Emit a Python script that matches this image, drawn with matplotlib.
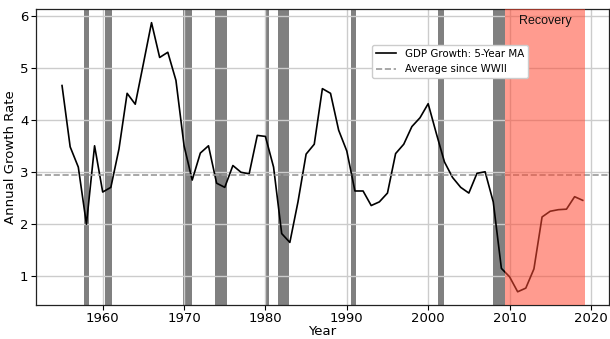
import matplotlib
matplotlib.use("Agg")
import matplotlib.pyplot as plt

# Five-year moving average of annual real GDP growth (%)
years = list(range(1955, 2020))
gdp_ma = [
    4.66, 3.48, 3.09, 1.99, 3.50, 2.61, 2.70, 3.44, 4.51, 4.30,
    5.08, 5.87, 5.20, 5.30, 4.76, 3.50, 2.84, 3.36, 3.50, 2.78,
    2.70, 3.12, 2.99, 2.96, 3.70, 3.68, 3.09, 1.81, 1.64, 2.42,
    3.34, 3.53, 4.60, 4.51, 3.80, 3.40, 2.63, 2.63, 2.35, 2.42,
    2.59, 3.35, 3.53, 3.87, 4.04, 4.31, 3.74, 3.19, 2.89, 2.70,
    2.59, 2.97, 3.00, 2.42, 1.14, 0.98, 0.69, 0.76, 1.13, 2.13,
    2.24, 2.27, 2.28, 2.52, 2.45,
]
postwar_average = 2.93

# NBER recession periods (fractional years)
rec_start = [1957.67, 1960.33, 1969.92, 1973.83, 1980.00, 1981.50, 1990.50, 2001.17, 2007.92]
rec_end = [1958.33, 1961.17, 1970.92, 1975.25, 1980.50, 1982.92, 1991.17, 2001.92, 2009.50]

# Current expansion
recovery_start = 2009.50
recovery_end = 2019.25

x_ticks = [1960, 1970, 1980, 1990, 2000, 2010, 2020]
y_ticks = [1, 2, 3, 4, 5, 6]

fig = plt.figure(figsize=(6.10, 3.39), dpi=100)
ax = fig.add_axes([0.059, 0.101, 0.939, 0.872])

for s, e in zip(rec_start, rec_end):
    ax.axvspan(s, e, color="#808080", lw=0, zorder=0.3)

ax.set_axisbelow(True)
ax.grid(True, color="#cccccc", lw=1.0, zorder=0.5)

ax.plot(years, gdp_ma, color="black", lw=1.2, zorder=2,
        label="GDP Growth: 5-Year MA")
ax.axhline(postwar_average, color="#999999", lw=1.2, ls="--", zorder=2,
           label="Average since WWII")

ax.axvspan(recovery_start, recovery_end, color="#ff4a33", alpha=0.55,
           lw=0, zorder=3)
ax.text((recovery_start + recovery_end) / 2, 0.96, "Recovery",
        transform=ax.get_xaxis_transform(), ha="center", va="center",
        fontsize=9, family="Liberation Sans", color="#111111", zorder=4)

ax.set_xlim(1951.8, 2022.2)
ax.set_ylim(0.44, 6.13)
ax.set_xticks(x_ticks)
ax.set_yticks(y_ticks)
ax.tick_params(labelsize=9.5, length=3.5, width=0.8, direction="out", pad=2)
for sp in ax.spines.values():
    sp.set_color("#222222")
    sp.set_linewidth(0.9)

ax.set_xlabel("Year", fontsize=9.5, labelpad=0)
ax.set_ylabel("Annual Growth Rate", fontsize=9.5, labelpad=2)

ax.legend(loc="upper left", bbox_to_anchor=(0.586, 0.879), borderaxespad=0,
          fontsize=7.4, framealpha=1.0, edgecolor="#cccccc")

fig.savefig("out.png", dpi=100)
